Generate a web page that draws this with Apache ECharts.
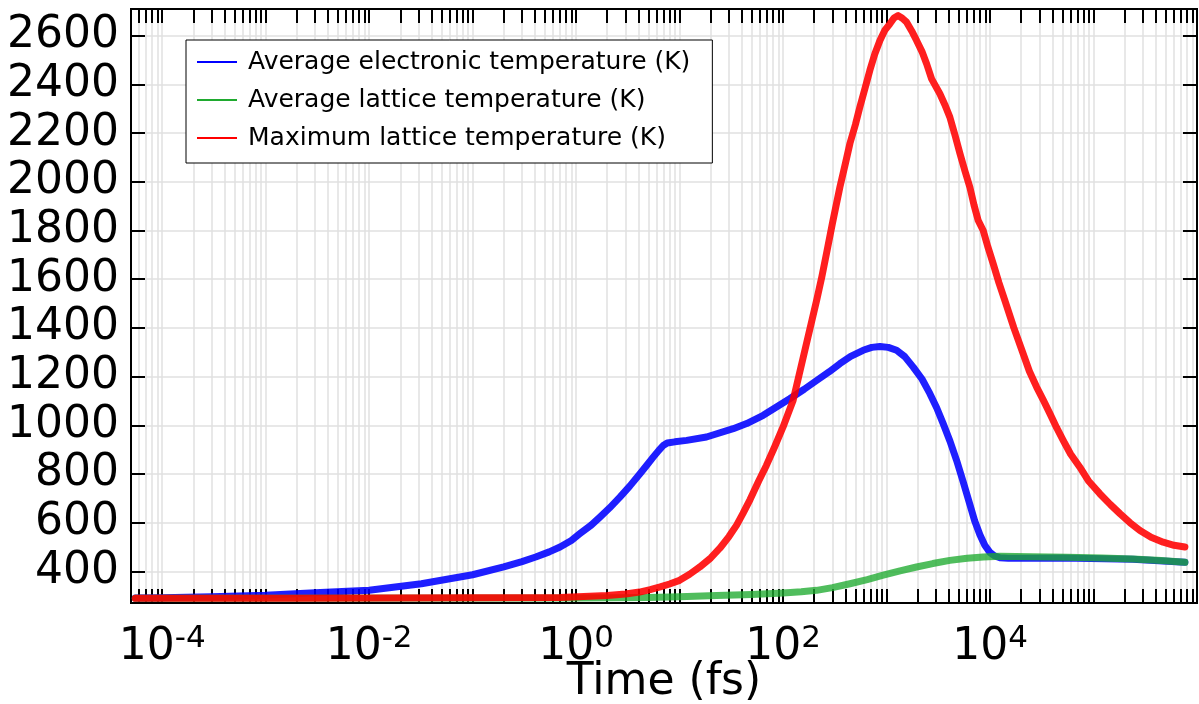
<!DOCTYPE html>
<html>
<head>
<meta charset="utf-8">
<script src="https://cdn.jsdelivr.net/npm/echarts@6.0.0/dist/echarts.min.js"></script>
<style>
  html, body { margin: 0; padding: 0; background: #fff; }
  #chart { width: 1199px; height: 704px; }
</style>
</head>
<body>
<div id="chart"></div>
<script>
// time in fs, temperature in K
var seriesNames = [
  'Average electronic temperature (K)',
  'Average lattice temperature (K)',
  'Maximum lattice temperature (K)'
];

var elecTime = [5.5e-5, 1e-4, 3e-4, 1e-3, 3e-3, 1e-2, 3.2e-2, 0.1, 0.2, 0.3, 0.407, 0.55, 0.70, 0.9, 1.09, 1.4, 1.70,
  2.1, 2.65, 3.3, 4.14, 4.8, 5.56, 6.3, 6.95, 7.6, 9, 11.7, 18.2, 33, 44.5, 64.3, 116, 160, 211, 280, 354,
  450, 594, 720, 863, 1040, 1250, 1500, 1811, 2200, 2624, 3050, 3525, 4100, 4750, 5500, 6385, 7100, 7980,
  8900, 9970, 11000, 12450, 15000, 19400, 50000, 240000, 764000];
var elecTemp = [291, 292, 296, 302, 312, 322, 349, 386, 418, 440, 459, 480, 500, 527, 555, 590, 623,
  660, 705, 750, 801, 835, 869, 897, 917, 927, 932, 938, 952, 986, 1007, 1041, 1109, 1148, 1184, 1220, 1253,
  1283, 1308, 1320, 1324, 1320, 1308, 1282, 1239, 1190, 1130, 1072, 1007, 935, 856, 768, 675, 608, 550,
  507, 478, 464, 456, 454, 454, 455, 450, 437];

var latTime = [5.5e-5, 1, 5, 10, 22.8, 50, 100, 150, 211, 300, 443, 650, 929, 1350, 1950, 2800, 4090, 6000,
  8590, 12450, 25000, 54800, 120000, 240000, 450000, 764000];
var latTemp = [290, 291, 293, 296, 301, 305, 311, 316, 322, 333, 349, 366, 384, 402, 418, 432, 445, 454,
  459, 462, 460, 458, 455, 451, 445, 437];

var maxTime = [5.5e-5, 2e-3, 0.7, 2.0, 3, 4.1, 5.2, 6.5, 8, 10, 12.5, 15.7, 20, 24.5, 30, 35.6, 41, 48, 58, 69,
  83, 100, 112, 125, 160, 211, 237, 263, 300, 354, 400, 443, 500, 552, 620, 690, 770, 863, 960, 1077, 1180,
  1295, 1420, 1563, 1750, 1950, 2200, 2438, 2724, 3275, 3650, 4090, 4600, 5115, 5700, 6385, 7000, 7690,
  8590, 9500, 10720, 12200, 13900, 17000, 20900, 24000, 28200, 33000, 37900, 44000, 50900, 60000, 73800,
  90000, 115000, 145000, 180000, 225000, 281000, 360000, 471000, 600000, 764000];
var maxTemp = [289, 290, 293, 301, 307, 315, 325, 336, 348, 363, 388, 418, 455, 495, 543, 590, 638, 695, 770, 835,
  912, 993, 1048, 1102, 1296, 1513, 1610, 1706, 1830, 1978, 2075, 2158, 2235, 2307, 2385, 2458, 2525, 2581, 2622, 2649, 2673,
  2683, 2672, 2656, 2620, 2581, 2535, 2485, 2423, 2362, 2318, 2266, 2190, 2117, 2047, 1978, 1905, 1841,
  1800, 1735, 1664, 1585, 1513, 1400, 1294, 1222, 1157, 1100, 1048, 990, 938, 882, 828,
  770, 719, 675, 637, 600, 568, 540, 520, 507, 500];

var yTicks = [400, 600, 800, 1000, 1200, 1400, 1600, 1800, 2000, 2200, 2400, 2600];
var xLabelValues = [1e-4, 1e-2, 1, 1e2, 1e4];

// log ticks at 1..9 x 10^n
var xTickValues = [];
for (var e = -5; e <= 5; e++) {
  for (var k = 1; k <= 9; k++) {
    var v = k * Math.pow(10, e);
    if (v >= 5e-5 && v <= 1e6) xTickValues.push(v);
  }
}

function pairs(t, y) {
  return t.map(function (x, i) { return [x, y[i]]; });
}

var font = 'DejaVu Sans';
var chart = echarts.init(document.getElementById('chart'));

function tick(values) {
  return { show: true, inside: true, length: 14, customValues: values, lineStyle: { color: '#000', width: 2 } };
}

function lineSeries(name, data, color, alpha) {
  return {
    name: name,
    type: 'line',
    data: data,
    symbol: 'none',
    itemStyle: { color: color },
    lineStyle: { color: color, width: 7, opacity: alpha, join: 'round', cap: 'round' }
  };
}

chart.setOption({
  animation: false,
  backgroundColor: '#fff',
  textStyle: { fontFamily: font },
  grid: {
    left: 131, right: 2, top: 9, bottom: 101,
    show: true, borderColor: '#000', borderWidth: 2,
    outerBoundsMode: 'none'
  },
  legend: {
    orient: 'vertical',
    left: 186,
    top: 40,
    padding: [8, 22, 11, 11],
    itemGap: 10,
    itemWidth: 40,
    itemHeight: 2,
    icon: 'rect',
    backgroundColor: '#fff',
    borderColor: '#000',
    borderWidth: 1,
    textStyle: { fontSize: 25, fontFamily: font, color: '#000', lineHeight: 28, padding: [0, 0, 0, 6] },
    data: seriesNames
  },
  xAxis: [
    {
      type: 'log',
      logBase: 10,
      min: 5e-5,
      max: 1e6,
      position: 'bottom',
      name: 'Time (fs)',
      nameLocation: 'middle',
      nameGap: 58,
      nameMoveOverlap: false,
      nameTextStyle: { fontSize: 44, color: '#000', fontFamily: font },
      axisLine: { show: true, lineStyle: { color: '#000', width: 2 } },
      axisTick: tick(xTickValues),
      axisLabel: {
        customValues: xLabelValues,
        margin: 20,
        formatter: function (val) {
          return '{b|10}{s|' + Math.round(Math.log10(val)) + '}';
        },
        rich: {
          b: { fontSize: 44, fontFamily: font, color: '#000', lineHeight: 50 },
          s: { fontSize: 31, fontFamily: font, color: '#000', lineHeight: 20, verticalAlign: 'top' }
        }
      },
      splitLine: { show: true, lineStyle: { color: '#e0e0e0', width: 1.5 } }
    },
    {
      type: 'log',
      logBase: 10,
      min: 5e-5,
      max: 1e6,
      position: 'top',
      axisLine: { show: true, lineStyle: { color: '#000', width: 2 } },
      axisTick: tick(xTickValues),
      axisLabel: { show: false },
      splitLine: { show: false }
    }
  ],
  yAxis: [
    {
      type: 'value',
      min: 270,
      max: 2710,
      splitNumber: 12,
      minInterval: 200,
      maxInterval: 200,
      position: 'left',
      axisLine: { show: true, lineStyle: { color: '#000', width: 2 } },
      axisTick: tick(yTicks),
      axisLabel: {
        customValues: yTicks,
        margin: 12,
        fontSize: 44,
        fontFamily: font,
        color: '#000',
        formatter: function (val) { return String(val); }
      },
      splitLine: { show: true, lineStyle: { color: '#e0e0e0', width: 1.5 } }
    },
    {
      type: 'value',
      min: 270,
      max: 2710,
      splitNumber: 12,
      minInterval: 200,
      maxInterval: 200,
      position: 'right',
      axisLine: { show: true, lineStyle: { color: '#000', width: 2 } },
      axisTick: tick(yTicks),
      axisLabel: { show: false },
      splitLine: { show: false }
    }
  ],
  series: [
    lineSeries(seriesNames[0], pairs(elecTime, elecTemp), '#0000ff', 0.88),
    lineSeries(seriesNames[1], pairs(latTime, latTemp), '#1faa2f', 0.78),
    lineSeries(seriesNames[2], pairs(maxTime, maxTemp), '#ff0000', 0.88)
  ]
});
</script>
</body>
</html>
